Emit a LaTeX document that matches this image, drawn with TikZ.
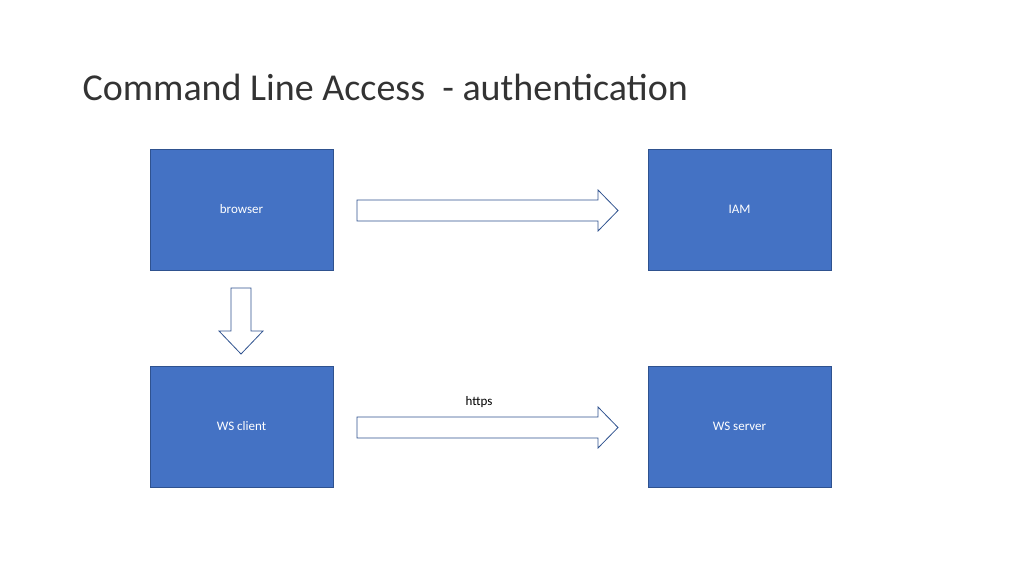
\documentclass[tikz,border=0pt]{standalone}
\usepackage{fontspec}
\setmainfont{Carlito}
\usetikzlibrary{positioning}
\definecolor{boxblue}{HTML}{4472C4}
\definecolor{edgeblue}{HTML}{2F528F}
\begin{document}
\begin{tikzpicture}[x=1pt,y=-1pt,
    box/.style={draw=edgeblue,fill=boxblue,text=white,minimum width=183pt,minimum height=121pt,inner sep=0pt,font=\fontsize{13}{15}\selectfont},
    blockarrow/.style={draw=edgeblue,fill=white,line width=0.8pt}]
        \useasboundingbox (0,0) rectangle (1024,576);
        \node [anchor=base west,font=\fontsize{38}{44}\selectfont,text=black!80] (title) at (79,100) {Command Line Access\ \ - authentication};
        \begin{scope}
            \node (browser) [box] at (241.5,209.5) {browser};
            \node (iam) [box] at (739.5,209.5) {IAM};
            \node (client) [box] at (241.5,426.5) {WS client};
            \node (server) [box] at (739.5,426.5) {WS server};
        \end{scope}
        % block arrows
        \draw [blockarrow] (357,200) -- (598,200) -- (598,190) -- (618,210.5) -- (598,231) -- (598,221) -- (357,221) -- cycle;
        \draw [blockarrow] (357,417) -- (598,417) -- (598,407) -- (618,427.5) -- (598,448) -- (598,438) -- (357,438) -- cycle;
        \draw [blockarrow] (231,288) -- (251,288) -- (251,331) -- (263,331) -- (241,354) -- (219,331) -- (231,331) -- cycle;
        \node (https) [font=\fontsize{13}{15}\selectfont] at (479,402) {https};
\end{tikzpicture}
\end{document}
